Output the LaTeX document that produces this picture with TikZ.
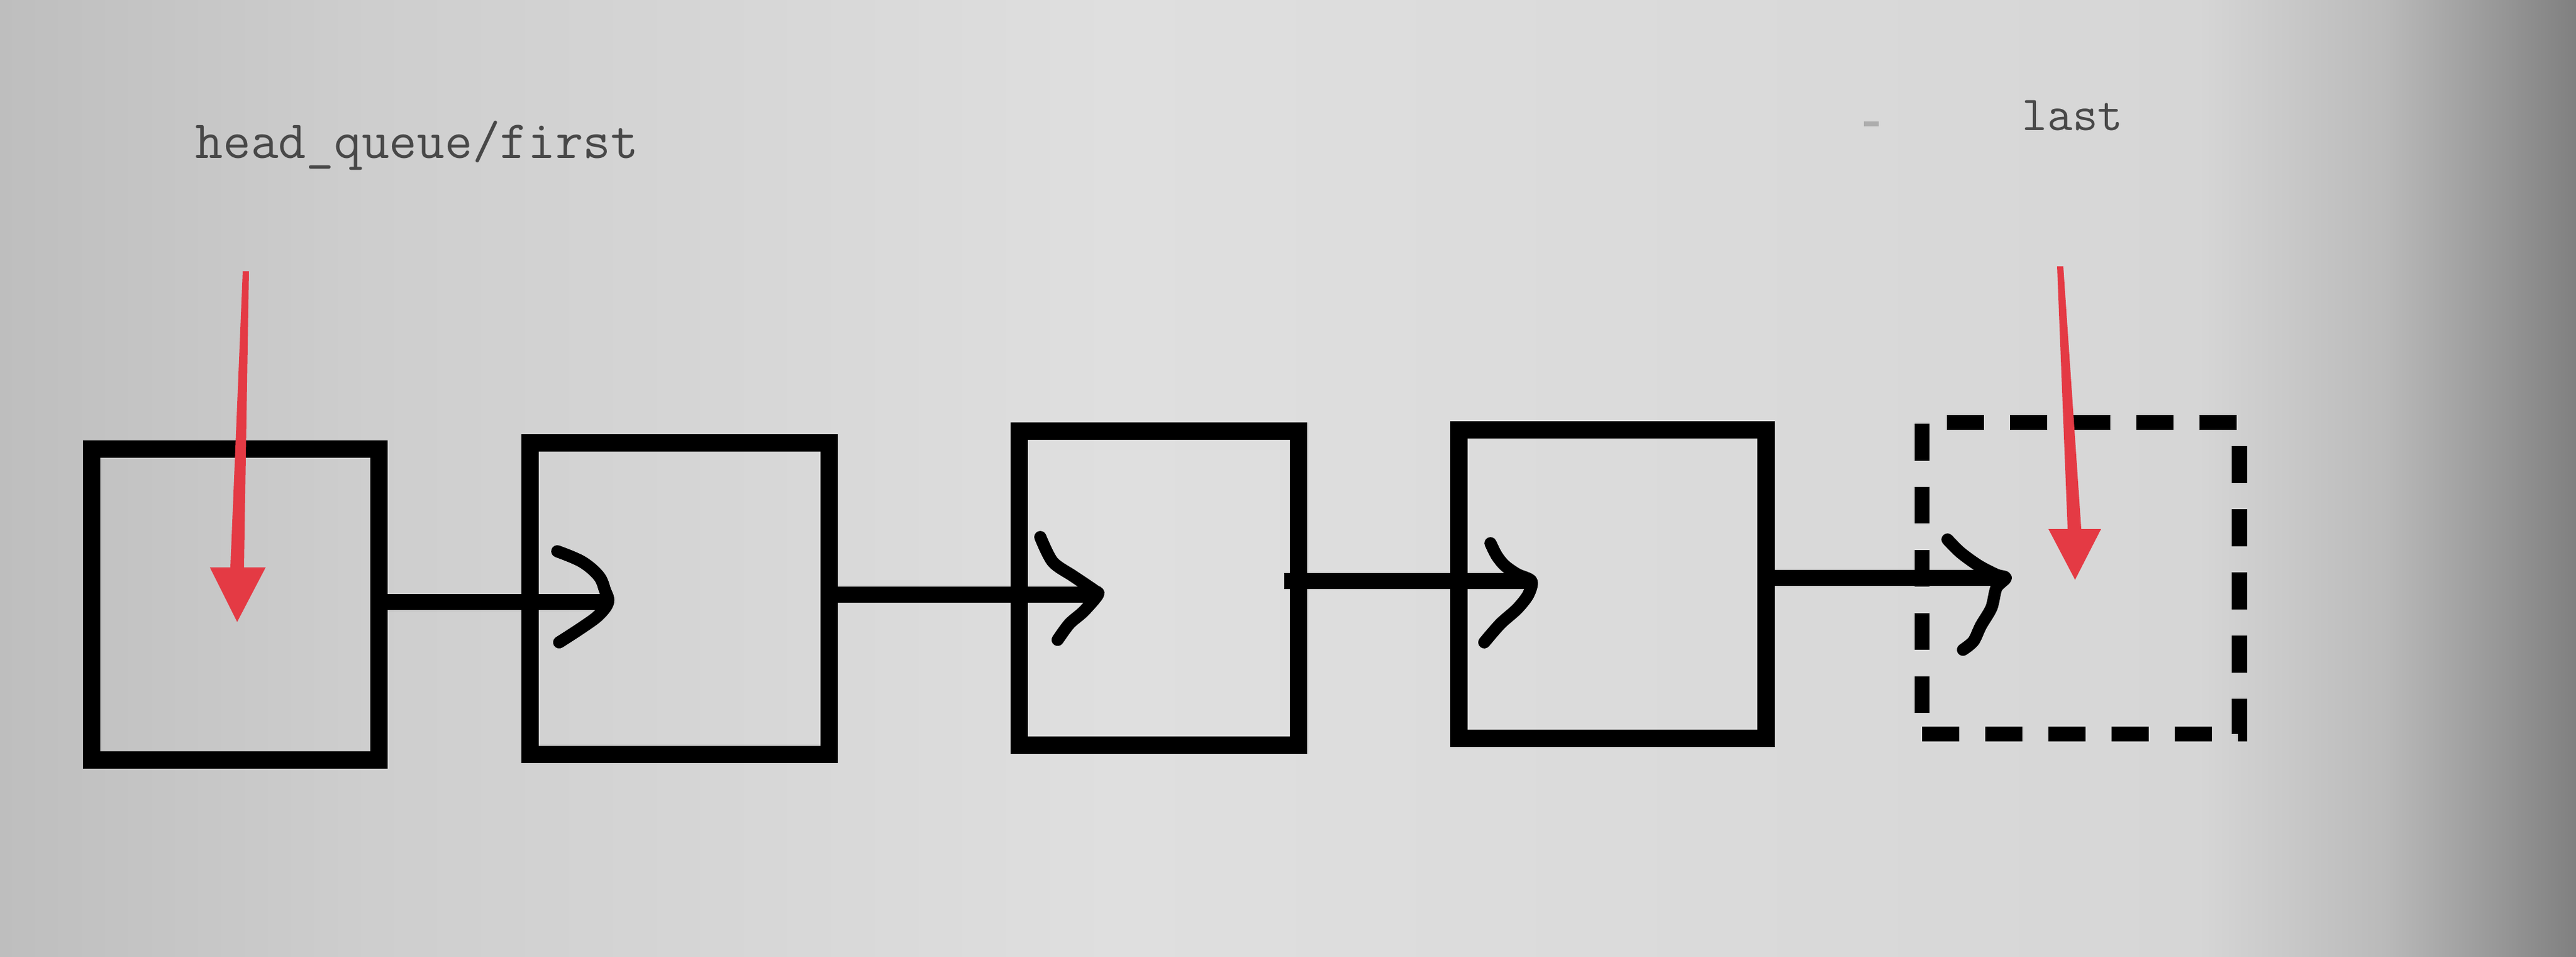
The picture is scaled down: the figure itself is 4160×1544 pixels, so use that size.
\documentclass[tikz,border=0pt]{standalone}
\usepackage{fontspec}
\usetikzlibrary{calc}
\definecolor{redarrow}{RGB}{228,58,68}
\definecolor{labelgray}{RGB}{72,72,72}
\definecolor{bgA}{RGB}{190,190,190}
\definecolor{bgB}{RGB}{206,206,206}
\definecolor{bgC}{RGB}{223,223,223}
\definecolor{bgD}{RGB}{214,214,214}
\definecolor{bgE}{RGB}{186,186,186}
\definecolor{bgF}{RGB}{128,128,128}
\begin{document}
\begin{tikzpicture}[x=0.01cm,y=-0.01cm,
  box/.style={draw=black, line width=8pt, rectangle, inner sep=0pt},
  ghostbox/.style={box, line width=7pt, dash pattern=on 17pt off 12pt},
  link/.style={draw=black, line width=7.4pt},
  tipline/.style={draw=black, line width=5.6pt, line cap=round, line join=round},
  pointer/.style={fill=redarrow},
  lbl/.style={anchor=base west, inner sep=0pt, text=labelgray, font=\ttfamily\fontsize{24.7}{29}\selectfont}]
\useasboundingbox (0,0) rectangle (4160,1544);
% background (photo of a screen)
\shade[left color=bgA, right color=bgB] (0,0) rectangle (601,1544);
\shade[left color=bgB, right color=bgC] (600,0) rectangle (1801,1544);
\shade[left color=bgC, right color=bgD] (1800,0) rectangle (3551,1544);
\shade[left color=bgD, right color=bgE] (3550,0) rectangle (3851,1544);
\shade[left color=bgE, right color=bgF] (3850,0) rectangle (4160,1544);
\draw[labelgray!45, line width=2pt] (3010,200) -- (3034,200);

% labels
\node[lbl] (first) at (315,255) {head\_queue/first};
\node[lbl, font=\ttfamily\fontsize{22.5}{27}\selectfont] (last) at (3265,210) {last};

% boxes
\node[box, minimum width=4.64cm, minimum height=5.02cm] (b1) at (380,976) {};
\node[box, minimum width=4.83cm, minimum height=5.03cm] (b2) at (1097.5,966.5) {};
\node[box, minimum width=4.51cm, minimum height=5.07cm] (b3) at (1871.5,949.5) {};
\node[box, minimum width=4.96cm, minimum height=4.98cm] (b4) at (2604,943) {};
\node[ghostbox, minimum width=5.12cm, minimum height=5.03cm] (b5) at (3360,933.5) {};

% arrow tips
\coordinate (h1) at (982,972);
\coordinate (h2) at (1773,960);
\coordinate (h3) at (2473,938);
\coordinate (h4) at (3239,933);
\coordinate (s3) at ([xshift=-0.37cm]b3.east);

% shafts
\draw[link] (b1.east |- h1) -- ($(h1)+(-6,0)$);
\draw[link] (b2.east |- h2) -- ($(h2)+(-6,0)$);
\draw[link] (s3 |- h3) -- ($(h3)+(-6,0)$);
\draw[link] (b4.east |- h4) -- ($(h4)+(-6,0)$);

% hand-drawn heads
\draw[tipline, shift={(h1)}] plot[smooth, tension=0.6] coordinates
  {(-82,-82) (-42,-65) (-15,-42) (-5,-19) (0,0) (-15,21) (-42,41) (-79,65)};
\draw[tipline, shift={(h2)}] plot[smooth, tension=0.5] coordinates
  {(-93,-93) (-73,-53) (-40,-30) (-6,-7) (0,0) (-23,27) (-46,47) (-65,73)};
\draw[tipline, shift={(h3)}] plot[smooth, tension=0.5] coordinates
  {(-66,-61) (-56,-41) (-43,-25) (-23,-11) (0,0) (-5,22) (-23,45) (-50,69) (-76,99)};
\draw[tipline, shift={(h4)}] plot[smooth, tension=0.5] coordinates
  {(-94,-62) (-73,-41) (-44,-20) (-15,-5) (0,0) (-15,16) (-23,48) (-40,77) (-52,102) (-69,116)};

% red pointers
\coordinate (p1) at (383,1004);
\coordinate (p2) at (3351,936);
\fill[pointer, shift={(p1)}] (9,-566) -- (19,-566) -- (11,-88) -- (46,-88) -- (0,0)
  -- (-44,-88) -- (-11,-88) -- cycle;
\fill[pointer, shift={(p2)}] (-29,-506) -- (-19,-506) -- (10,-82) -- (42,-82) -- (0,0)
  -- (-43,-82) -- (-12,-82) -- cycle;
\end{tikzpicture}
\end{document}
